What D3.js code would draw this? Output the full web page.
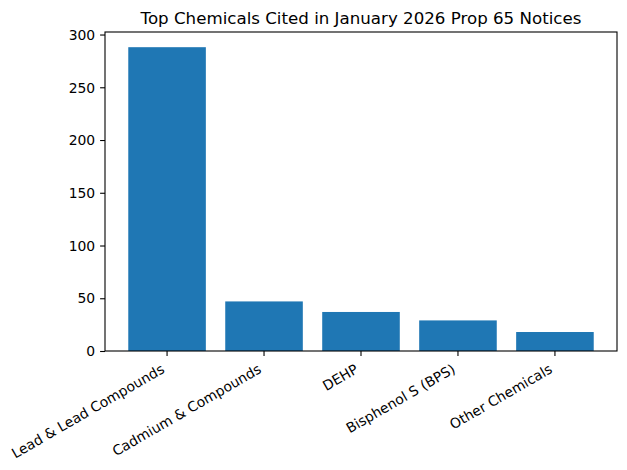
<!DOCTYPE html>
<html>
<head>
<meta charset="utf-8">
<script src="https://cdn.jsdelivr.net/npm/d3@7"></script>
<style>
  html, body { margin: 0; padding: 0; background: #fff; }
  text { font-family: "DejaVu Sans", sans-serif; fill: #000; }
</style>
</head>
<body>
<svg id="chart" width="627" height="470"></svg>
<script>
const categories = ["Lead & Lead Compounds", "Cadmium & Compounds", "DEHP", "Bisphenol S (BPS)", "Other Chemicals"];
const values = [288, 47, 37, 29, 18];
const yTicks = [0, 50, 100, 150, 200, 250, 300];
const title = "Top Chemicals Cited in January 2026 Prop 65 Notices";

const svg = d3.select("#chart");
const L = 105, R = 617, T = 32, B = 351;

const x = d3.scaleBand().domain(categories).range([L, R]).paddingInner(0.2).paddingOuter(0.24);
const y = d3.scaleLinear().domain([0, d3.max(values) * 1.05]).range([B, T]);

svg.append("g").selectAll("rect").data(categories).join("rect")
  .attr("x", d => x(d))
  .attr("width", x.bandwidth())
  .attr("y", (d, i) => y(values[i]))
  .attr("height", (d, i) => B - y(values[i]))
  .attr("fill", "#1f77b4");

// Y axis
const yAxis = svg.append("g").attr("transform", `translate(${L},0)`)
  .call(d3.axisLeft(y).tickValues(yTicks).tickSize(4.9).tickPadding(4.9).tickFormat(d3.format("d")));
yAxis.select(".domain").remove();
yAxis.selectAll("line").attr("stroke", "#000").attr("stroke-width", 1.1);
yAxis.selectAll("text").attr("font-size", "13.9px").attr("font-family", "DejaVu Sans").attr("dy", "0.34em");

// X axis
const xAxis = svg.append("g").attr("transform", `translate(0,${B})`)
  .call(d3.axisBottom(x).tickSize(4.9).tickFormat(""));
xAxis.select(".domain").remove();
xAxis.selectAll("line").attr("stroke", "#000").attr("stroke-width", 1.1);

// Rotated labels (ha=right, rotation 30)
const fs = 13.9, h = fs * 1.165, d = fs * 0.236;
const c = Math.cos(Math.PI / 6), s = Math.sin(Math.PI / 6);
const topY = B + 4.9 + 4.9;
svg.append("g").selectAll("text").data(categories).join("text")
  .attr("font-size", fs + "px")
  .attr("text-anchor", "end")
  .attr("transform", dd => {
    const tx = x(dd) + x.bandwidth() / 2;
    const bx = tx - d * s;
    const by = topY + h * c - d * c;
    return `translate(${bx},${by}) rotate(-30)`;
  })
  .text(dd => dd);

// Spines
svg.append("rect").attr("x", L).attr("y", T).attr("width", R - L).attr("height", B - T)
  .attr("fill", "none").attr("stroke", "#000").attr("stroke-width", 1.1);

// Title
svg.append("text").attr("x", (L + R) / 2).attr("y", 24)
  .attr("text-anchor", "middle").attr("font-size", "16.67px").text(title);
</script>
</body>
</html>
